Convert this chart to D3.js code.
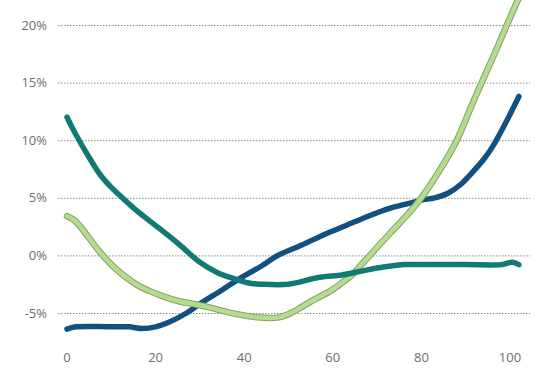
<!DOCTYPE html>
<html>
<head>
<meta charset="utf-8">
<script src="https://cdn.jsdelivr.net/npm/d3@7"></script>
<style>
  body { margin: 0; background: #fff; }
  text { font-family: "Open Sans", "Noto Sans", sans-serif; fill: #6e6e6e; }
</style>
</head>
<body>
<div id="plotRegi"></div>
<script>
/* Data */
var xTicks = [0, 20, 40, 60, 80, 100]
var yTicks = [-5, 0, 5, 10, 15, 20]

var blueX = [0, 2, 10, 14, 17, 20, 23, 27, 30, 35, 38.6, 44, 47.6, 53, 58, 63, 68, 73, 77, 80, 83, 86, 89, 91, 94, 96, 99, 102]
var blueY = [-6.4, -6.2, -6.2, -6.2, -6.35, -6.2, -5.8, -5.0, -4.2, -3.0, -2.1, -0.9, 0, 0.9, 1.8, 2.6, 3.4, 4.1, 4.5, 4.8, 5.0, 5.4, 6.2, 7.0, 8.3, 9.4, 11.5, 13.8]

var tealX = [0, 2, 5, 7.5, 10, 12.5, 16, 21, 25.5, 30, 34, 38.4, 41, 44, 50, 57, 62, 66, 70, 76, 80, 90, 98, 100.5, 102]
var tealY = [12, 10.5, 8.5, 7.0, 5.9, 5.0, 3.8, 2.3, 0.9, -0.6, -1.5, -2.1, -2.4, -2.5, -2.5, -1.9, -1.7, -1.4, -1.1, -0.8, -0.8, -0.8, -0.8, -0.6, -0.8]

var greenX = [0, 1.5, 3, 5, 7.4, 10, 13, 16, 18.7, 22, 25.5, 28.4, 33, 38.4, 43.6, 47.4, 50, 53.3, 56, 59.4, 62, 64.6, 66, 68.4, 70, 73.6, 77, 80, 84, 88, 91, 93.6, 96.5, 99.3, 102.5]
var greenY = [3.4, 3.1, 2.5, 1.5, 0.3, -0.8, -1.8, -2.6, -3.1, -3.6, -4.0, -4.2, -4.6, -5.1, -5.4, -5.4, -5.1, -4.4, -3.8, -3.1, -2.4, -1.6, -1.0, 0, 0.7, 2.2, 3.6, 5.0, 7.3, 10, 12.7, 15, 17.5, 20, 22.8]

/* Chart */
var width = 538, height = 368

var scale_x = d3.scaleLinear().domain([0, 100]).range([67, 510])
var scale_y = d3.scaleLinear().domain([-5, 20]).range([313, 25])

var svg = d3.select("#plotRegi")
    .append("svg")
    .attr("width", width)
    .attr("height", height)

// Grid lines
svg.append("g")
    .attr("id", "grid")
    .selectAll("line")
    .data(yTicks)
    .enter()
    .append("line")
    .attr("x1", 58)
    .attr("x2", 530)
    .attr("y1", d => scale_y(d) + 0.5)
    .attr("y2", d => scale_y(d) + 0.5)
    .style("stroke", "#8a8a8a")
    .style("stroke-width", "1px")
    .style("stroke-dasharray", "1.5,1.5")

// Y labels
svg.append("g")
    .selectAll("text")
    .data(yTicks)
    .enter()
    .append("text")
    .attr("x", 47)
    .attr("y", d => scale_y(d))
    .attr("dy", "0.35em")
    .attr("text-anchor", "end")
    .style("font-size", "13px")
    .text(d => d + "%")

// X labels
svg.append("g")
    .selectAll("text")
    .data(xTicks)
    .enter()
    .append("text")
    .attr("x", d => scale_x(d))
    .attr("y", 357)
    .attr("dy", "0.35em")
    .attr("text-anchor", "middle")
    .style("font-size", "13px")
    .text(d => d)

// Lines
function pts(xs, ys) { return xs.map((x, i) => [x, ys[i]]) }

var line = d3.line()
    .x(d => scale_x(d[0]))
    .y(d => scale_y(d[1]))
    .curve(d3.curveCatmullRom.alpha(0.5))

svg.append("path")
    .attr("d", line(pts(blueX, blueY)))
    .style("fill", "none")
    .style("stroke", "#11507f")
    .style("stroke-width", "5.5px")
    .style("stroke-linecap", "round")
    .style("stroke-linejoin", "round")

svg.append("path")
    .attr("d", line(pts(greenX, greenY)))
    .style("fill", "none")
    .style("stroke", "#7ea75c")
    .style("stroke-width", "6.5px")
    .style("stroke-linecap", "round")
    .style("stroke-linejoin", "round")

svg.append("path")
    .attr("d", line(pts(greenX, greenY)))
    .style("fill", "none")
    .style("stroke", "#b7da92")
    .style("stroke-width", "4.5px")
    .style("stroke-linecap", "round")
    .style("stroke-linejoin", "round")

svg.append("path")
    .attr("d", line(pts(tealX, tealY)))
    .style("fill", "none")
    .style("stroke", "#117a74")
    .style("stroke-width", "5.5px")
    .style("stroke-linecap", "round")
    .style("stroke-linejoin", "round")
</script>
</body>
</html>
